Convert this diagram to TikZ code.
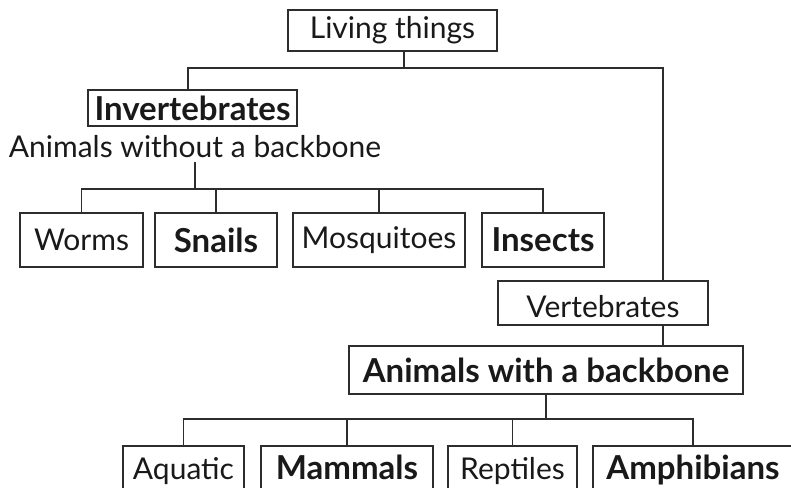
\documentclass[tikz,border=0pt]{standalone}
\usepackage{fontspec}
\setmainfont{Lato}
\definecolor{lineclr}{RGB}{45,45,45}
\definecolor{txtclr}{RGB}{25,25,25}
\tikzset{
  box/.style={draw=lineclr, line width=1.1pt, inner sep=0pt, outer sep=0pt,
    rectangle, text=txtclr, font=\fontsize{30}{36}\selectfont},
  bbox/.style={box, font=\fontsize{33}{38}\selectfont\bfseries},
  botrow/.style={text height=22.5pt, text depth=0pt},
  link/.style={draw=lineclr, line width=1.1pt},
  plaintext/.style={inner sep=0pt, outer sep=0pt, text=txtclr, font=\fontsize{30}{36}\selectfont}
}
\begin{document}
\begin{tikzpicture}[x=1pt, y=-1pt]
\useasboundingbox (0,0) rectangle (791,487);
\clip (0,0) rectangle (791,487);

% nodes
\node[box, minimum width=209pt, minimum height=41pt] (living) at (392.5,30.5) {Living things};
\node[bbox, minimum width=209pt, minimum height=36pt] (inv) at (192.5,108) {Invertebrates};
\node[plaintext, anchor=base, inner sep=5pt] (invsub) at (195,157) {Animals without a backbone};

\node[box, minimum width=123pt, minimum height=54pt] (worms) at (81.5,240) {Worms};
\node[bbox, minimum width=122pt, minimum height=54pt] (snails) at (216,240) {Snails};
\node[box, minimum width=172pt, minimum height=54pt] (mosq) at (379,240) {Mosquitoes};
\node[bbox, minimum width=122pt, minimum height=54pt] (insects) at (543,240) {Insects};

\node[box, minimum width=210pt, minimum height=44pt, text height=30pt] (vert) at (603,303) {Vertebrates};
\node[bbox, minimum width=394pt, minimum height=48pt] (ab) at (546,370) {Animals with a backbone};

\node[box, botrow, minimum width=121pt, minimum height=45pt] (aquatic) at (183.5,468.5) {Aquatic};
\node[bbox, botrow, minimum width=172pt, minimum height=45pt] (mammals) at (347,468.5) {Mammals};
\node[box, botrow, minimum width=129pt, minimum height=45pt] (reptiles) at (512.5,468.5) {Reptiles};
\node[bbox, botrow, minimum width=200pt, minimum height=45pt] (amph) at (693,468.5) {Amphibians};

% junction coordinates
\coordinate (jtop) at (404,68);
\coordinate (jL) at (188,68);
\coordinate (jR) at (663,68);
\coordinate (jinv) at (195,189);
\coordinate (jab) at (546,419);

% connectors
\draw[link] (living.south -| jtop) -- (jtop);
\draw[link] (inv.north -| jL) -- (jL) -- (jR) -- (vert.north -| jR);
\draw[link] (vert.south -| jR) -- (ab.north -| jR);

\draw[link] (invsub.south) -- (jinv);
\draw[link] (worms.north) |- (jinv) -| (insects.north);
\draw[link] (snails.north) -- (snails.north |- jinv);
\draw[link] (mosq.north) -- (mosq.north |- jinv);

\draw[link] (ab.south) -- (jab);
\draw[link] (aquatic.north) |- (jab) -| (amph.north);
\draw[link] (mammals.north) -- (mammals.north |- jab);
\draw[link] (reptiles.north) -- (reptiles.north |- jab);
\end{tikzpicture}
\end{document}
